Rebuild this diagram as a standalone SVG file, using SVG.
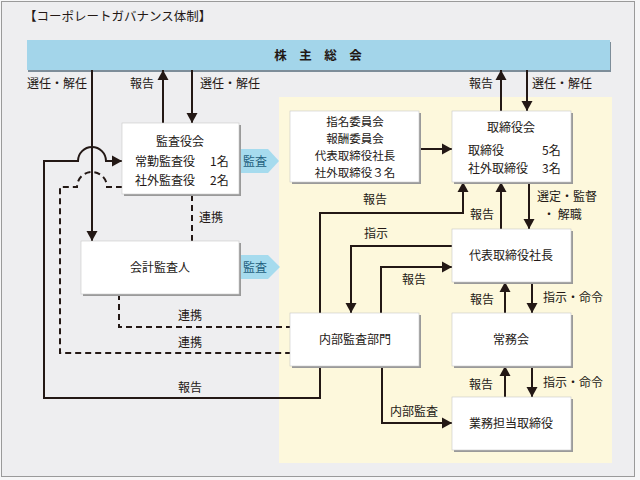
<svg xmlns="http://www.w3.org/2000/svg" width="640" height="480" viewBox="0 0 640 480">
<style>
text{font-family:"Noto Sans CJK JP","Noto Sans",sans-serif;font-size:12px;fill:#231815}
.c{text-anchor:middle}
.sm{font-size:11.5px}
.box{fill:#fff;stroke:#c8c8c8;stroke-width:0.6}
.sh{fill:#9a9a9a}
.ln{fill:none;stroke:#231815;stroke-width:2}
.ar{marker-end:url(#ah)}
.ds{fill:none;stroke:#231815;stroke-width:2;stroke-dasharray:6 4}
.blue{fill:#a6dbee}
.bt{fill:#1f5f7d}
</style>
<defs>
<marker id="ah" markerUnits="userSpaceOnUse" markerWidth="12" markerHeight="12" viewBox="0 0 12 12" refX="11" refY="6" orient="auto">
<path d="M1,0.5 L11,6 L1,11.5 Z" fill="#231815"/>
</marker>
</defs>
<rect x="0" y="0" width="640" height="480" fill="#f6f6f7"/>
<rect x="1.5" y="1.5" width="633" height="475" fill="#eeeef0" stroke="#9a9a9a" stroke-width="1"/>
<text x="24" y="21" style="font-size:12.5px">【コーポレートガバナンス体制】</text>
<rect x="279" y="97" width="333" height="366" fill="#fdf8dc"/>

<g id="shareholders">
<rect x="28" y="42" width="583" height="30" fill="#7d8d99"/>
<rect x="27" y="40" width="583" height="30" fill="#a3d5ea"/>
<text x="318" y="60" class="c" style="font-weight:bold;font-size:12.5px">株　主　総　会</text>
</g>

<g id="connectors">
<line class="ln ar" x1="92" y1="70" x2="92" y2="241"/>
<line class="ln ar" x1="163" y1="123" x2="163" y2="70"/>
<line class="ln ar" x1="192" y1="70" x2="192" y2="123"/>
<line class="ln ar" x1="501" y1="111" x2="501" y2="70"/>
<line class="ln ar" x1="527" y1="70" x2="527" y2="111"/>
<line class="ln ar" x1="419" y1="149" x2="452" y2="149"/>
<path class="ln ar" d="M320,313 V213 H463 V182"/>
<line class="ln ar" x1="501" y1="229" x2="501" y2="182"/>
<line class="ln ar" x1="529" y1="182" x2="529" y2="229"/>
<path class="ln ar" d="M452,246 H351 V313"/>
<path class="ln ar" d="M381,313 V267 H452"/>
<line class="ln ar" x1="505" y1="313" x2="505" y2="282"/>
<line class="ln ar" x1="532" y1="282" x2="532" y2="313"/>
<line class="ln ar" x1="505" y1="397" x2="505" y2="366"/>
<line class="ln ar" x1="532" y1="366" x2="532" y2="397"/>
<path class="ln ar" d="M382,366 V423 H452"/>
<path class="ln ar" d="M320,366 V398 H44 V161 H78 A14,14 0 0 1 106,161 H122"/>
<line class="ds" x1="192" y1="195" x2="192" y2="241"/>
<path class="ds" d="M119,294 V327 H290"/>
<path class="ds" d="M122,187 H107 A15,15 0 0 0 77,187 H60 V353 H290"/>
<polygon class="blue" points="240,149 268,149 279,161 268,173 240,173"/>
<polygon class="blue" points="240,255 268,255 280,267 268,279 240,279"/>
<text x="243" y="166" class="bt">監査</text>
<text x="243" y="272" class="bt">監査</text>
<text x="27" y="88">選任・解任</text>
<text x="130" y="88">報告</text>
<text x="200" y="88">選任・解任</text>
<text x="469" y="88">報告</text>
<text x="532" y="88">選任・解任</text>
<text x="199" y="222">連携</text>
<text x="178" y="320">連携</text>
<text x="178" y="347">連携</text>
<text x="178" y="392">報告</text>
<text x="363" y="204">報告</text>
<text x="470" y="219">報告</text>
<text x="537" y="201">選定・監督</text>
<text x="543" y="219">・ 解職</text>
<text x="364" y="238">指示</text>
<text x="402" y="284">報告</text>
<text x="470" y="304">報告</text>
<text x="543" y="302">指示・命令</text>
<text x="469" y="389">報告</text>
<text x="543" y="387">指示・命令</text>
<text x="390" y="416">内部監査</text>
</g>

<g id="kansayakukai">
<rect class="sh" x="124" y="125" width="117" height="71"/>
<rect class="box" x="122" y="123" width="117" height="71"/>
<text x="180" y="146" class="c">監査役会</text>
<text x="135" y="166">常勤監査役</text><text x="210" y="166">1名</text>
<text x="135" y="185">社外監査役</text><text x="210" y="185">2名</text>
</g>

<g id="kaikeikansanin">
<rect class="sh" x="83" y="243" width="158" height="53"/>
<rect class="box" x="81" y="241" width="158" height="53"/>
<text x="160" y="272" class="c">会計監査人</text>
</g>

<g id="iinkai">
<rect class="sh" x="292" y="113" width="129" height="71"/>
<rect class="box" x="290" y="111" width="129" height="71"/>
<text x="355" y="126" class="c sm">指名委員会</text>
<text x="355" y="142.5" class="c sm">報酬委員会</text>
<text x="355" y="160" class="c sm">代表取締役社長</text>
<text x="355" y="176.5" class="c sm">社外取締役３名</text>
</g>

<g id="torishimariyakukai">
<rect class="sh" x="454" y="113" width="119" height="71"/>
<rect class="box" x="452" y="111" width="119" height="71"/>
<text x="511" y="132" class="c">取締役会</text>
<text x="468" y="155">取締役</text><text x="542" y="155">5名</text>
<text x="468" y="173">社外取締役</text><text x="542" y="173">3名</text>
</g>

<g id="daihyo">
<rect class="sh" x="454" y="231" width="119" height="53"/>
<rect class="box" x="452" y="229" width="119" height="53"/>
<text x="511" y="260" class="c">代表取締役社長</text>
</g>

<g id="naibukansa">
<rect class="sh" x="292" y="315" width="129" height="53"/>
<rect class="box" x="290" y="313" width="129" height="53"/>
<text x="355" y="344" class="c">内部監査部門</text>
</g>

<g id="jomukai">
<rect class="sh" x="454" y="315" width="119" height="53"/>
<rect class="box" x="452" y="313" width="119" height="53"/>
<text x="511" y="344" class="c">常務会</text>
</g>

<g id="gyomu">
<rect class="sh" x="454" y="399" width="119" height="53"/>
<rect class="box" x="452" y="397" width="119" height="53"/>
<text x="511" y="428" class="c">業務担当取締役</text>
</g>
</svg>
